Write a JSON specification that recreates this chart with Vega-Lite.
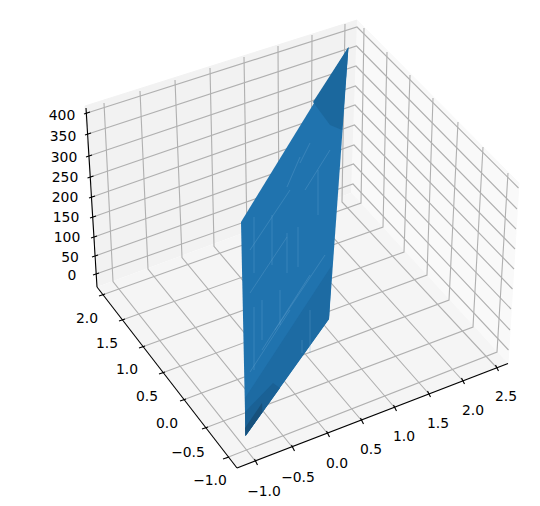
{"$schema":"https://vega.github.io/schema/vega-lite/v6.json","width":540,"height":506,"padding":0,"autosize":{"type":"fit","contains":"padding"},"background":"white","view":{"stroke":null},"config":{"axis":{"domain":false}},
"datasets":{
"polys":[
{"id":"a_left","c":"#f2f2f2","i":0,"u":97,"v":287},{"id":"a_left","c":"#f2f2f2","i":1,"u":85,"v":106},{"id":"a_left","c":"#f2f2f2","i":2,"u":357,"v":20},{"id":"a_left","c":"#f2f2f2","i":3,"u":351,"v":193},
{"id":"b_right","c":"#f9f9f9","i":0,"u":357,"v":20},{"id":"b_right","c":"#f9f9f9","i":1,"u":519,"v":183},{"id":"b_right","c":"#f9f9f9","i":2,"u":508,"v":364},{"id":"b_right","c":"#f9f9f9","i":3,"u":351,"v":193},
{"id":"c_floor","c":"#f5f5f5","i":0,"u":97,"v":287},{"id":"c_floor","c":"#f5f5f5","i":1,"u":237,"v":468},{"id":"c_floor","c":"#f5f5f5","i":2,"u":508,"v":364},{"id":"c_floor","c":"#f5f5f5","i":3,"u":351,"v":193}
],
"grid":[
{"id":"x-1.0","i":0,"u":104,"v":103},{"id":"x-1.0","i":1,"u":113,"v":281.5},{"id":"x-1.0","i":2,"u":256,"v":462},
{"id":"x-0.5","i":0,"u":140,"v":91},{"id":"x-0.5","i":1,"u":148,"v":269},{"id":"x-0.5","i":2,"u":293,"v":448},
{"id":"x0.0","i":0,"u":175,"v":80},{"id":"x0.0","i":1,"u":182,"v":257.5},{"id":"x0.0","i":2,"u":328,"v":434},
{"id":"x0.5","i":0,"u":210,"v":68},{"id":"x0.5","i":1,"u":214,"v":246.4},{"id":"x0.5","i":2,"u":362,"v":421},
{"id":"x1.0","i":0,"u":244,"v":57},{"id":"x1.0","i":1,"u":247,"v":235},{"id":"x1.0","i":2,"u":395,"v":408},
{"id":"x1.5","i":0,"u":278,"v":46},{"id":"x1.5","i":1,"u":279,"v":224},{"id":"x1.5","i":2,"u":429,"v":394},
{"id":"x2.0","i":0,"u":312,"v":35},{"id":"x2.0","i":1,"u":311,"v":213},{"id":"x2.0","i":2,"u":463,"v":381},
{"id":"x2.5","i":0,"u":345,"v":24},{"id":"x2.5","i":1,"u":342,"v":202},{"id":"x2.5","i":2,"u":497,"v":368},
{"id":"y2.0","i":0,"u":364,"v":28},{"id":"y2.0","i":1,"u":361,"v":203},{"id":"y2.0","i":2,"u":102,"v":295},
{"id":"y1.5","i":0,"u":387,"v":52},{"id":"y1.5","i":1,"u":383,"v":227},{"id":"y1.5","i":2,"u":122,"v":320},
{"id":"y1.0","i":0,"u":410,"v":75},{"id":"y1.0","i":1,"u":404,"v":252},{"id":"y1.0","i":2,"u":142,"v":347},
{"id":"y0.5","i":0,"u":433,"v":98},{"id":"y0.5","i":1,"u":427,"v":275},{"id":"y0.5","i":2,"u":162,"v":373},
{"id":"y0.0","i":0,"u":458,"v":122},{"id":"y0.0","i":1,"u":449,"v":300},{"id":"y0.0","i":2,"u":183,"v":400},
{"id":"y-0.5","i":0,"u":483,"v":147},{"id":"y-0.5","i":1,"u":473,"v":327},{"id":"y-0.5","i":2,"u":205,"v":428},
{"id":"y-1.0","i":0,"u":508,"v":173},{"id":"y-1.0","i":1,"u":497,"v":352},{"id":"y-1.0","i":2,"u":226,"v":458},
{"id":"z0","i":0,"u":96,"v":274},{"id":"z0","i":1,"u":353,"v":184},{"id":"z0","i":2,"u":508.5,"v":350},
{"id":"z50","i":0,"u":95,"v":256},{"id":"z50","i":1,"u":353.5,"v":164},{"id":"z50","i":2,"u":510,"v":330},
{"id":"z100","i":0,"u":94,"v":237},{"id":"z100","i":1,"u":354,"v":145},{"id":"z100","i":2,"u":511,"v":309},
{"id":"z150","i":0,"u":93,"v":217},{"id":"z150","i":1,"u":354.5,"v":125},{"id":"z150","i":2,"u":512.5,"v":289},
{"id":"z200","i":0,"u":92,"v":197},{"id":"z200","i":1,"u":355,"v":105},{"id":"z200","i":2,"u":514,"v":269},
{"id":"z250","i":0,"u":90.5,"v":177},{"id":"z250","i":1,"u":355.5,"v":86},{"id":"z250","i":2,"u":515,"v":249},
{"id":"z300","i":0,"u":89,"v":156},{"id":"z300","i":1,"u":356,"v":66},{"id":"z300","i":2,"u":516,"v":229},
{"id":"z350","i":0,"u":88,"v":134},{"id":"z350","i":1,"u":356.5,"v":46},{"id":"z350","i":2,"u":517,"v":209},
{"id":"z400","i":0,"u":87,"v":113},{"id":"z400","i":1,"u":357,"v":27},{"id":"z400","i":2,"u":518.5,"v":188}
],
"axes":[
{"id":"xaxis","i":0,"u":237,"v":468},{"id":"xaxis","i":1,"u":508,"v":363.5},
{"id":"yaxis","i":0,"u":97,"v":287},{"id":"yaxis","i":1,"u":237,"v":468},
{"id":"zaxis","i":0,"u":97,"v":287},{"id":"zaxis","i":1,"u":86,"v":108},
{"id":"tx1","i":0,"u":254.5,"v":459},{"id":"tx1","i":1,"u":257.5,"v":465},
{"id":"tx2","i":0,"u":291.5,"v":445},{"id":"tx2","i":1,"u":294.5,"v":451},
{"id":"tx3","i":0,"u":326.5,"v":431},{"id":"tx3","i":1,"u":329.5,"v":437},
{"id":"tx4","i":0,"u":360.5,"v":418},{"id":"tx4","i":1,"u":363.5,"v":424},
{"id":"tx5","i":0,"u":393.5,"v":405},{"id":"tx5","i":1,"u":396.5,"v":411},
{"id":"tx6","i":0,"u":427.5,"v":391},{"id":"tx6","i":1,"u":430.5,"v":397},
{"id":"tx7","i":0,"u":461.5,"v":378},{"id":"tx7","i":1,"u":464.5,"v":384},
{"id":"tx8","i":0,"u":495.5,"v":365},{"id":"tx8","i":1,"u":498.5,"v":371},
{"id":"ty1","i":0,"u":99,"v":296},{"id":"ty1","i":1,"u":105,"v":294},
{"id":"ty2","i":0,"u":119,"v":321},{"id":"ty2","i":1,"u":125,"v":319},
{"id":"ty3","i":0,"u":139,"v":348},{"id":"ty3","i":1,"u":145,"v":346},
{"id":"ty4","i":0,"u":159,"v":374},{"id":"ty4","i":1,"u":165,"v":372},
{"id":"ty5","i":0,"u":180,"v":401},{"id":"ty5","i":1,"u":186,"v":399},
{"id":"ty6","i":0,"u":202,"v":429},{"id":"ty6","i":1,"u":208,"v":427},
{"id":"ty7","i":0,"u":223,"v":459},{"id":"ty7","i":1,"u":229,"v":457},
{"id":"tz1","i":0,"u":93,"v":275},{"id":"tz1","i":1,"u":99,"v":273},
{"id":"tz2","i":0,"u":92,"v":257},{"id":"tz2","i":1,"u":98,"v":255},
{"id":"tz3","i":0,"u":91,"v":238},{"id":"tz3","i":1,"u":97,"v":236},
{"id":"tz4","i":0,"u":90,"v":218},{"id":"tz4","i":1,"u":96,"v":216},
{"id":"tz5","i":0,"u":89,"v":198},{"id":"tz5","i":1,"u":95,"v":196},
{"id":"tz6","i":0,"u":87.5,"v":178},{"id":"tz6","i":1,"u":93.5,"v":176},
{"id":"tz7","i":0,"u":86,"v":157},{"id":"tz7","i":1,"u":92,"v":155},
{"id":"tz8","i":0,"u":85,"v":135},{"id":"tz8","i":1,"u":91,"v":133},
{"id":"tz9","i":0,"u":84,"v":114},{"id":"tz9","i":1,"u":90,"v":112}
],
"labels":[
{"t":"−1.0","u":264,"v":491},{"t":"−0.5","u":298,"v":477},{"t":"0.0","u":337,"v":463},{"t":"0.5","u":371,"v":449},{"t":"1.0","u":404,"v":436},{"t":"1.5","u":438,"v":423},{"t":"2.0","u":473,"v":410},{"t":"2.5","u":506,"v":396},
{"t":"2.0","u":87,"v":318},{"t":"1.5","u":107,"v":343},{"t":"1.0","u":127,"v":369},{"t":"0.5","u":147,"v":396},{"t":"0.0","u":167,"v":423},{"t":"−0.5","u":188,"v":452},{"t":"−1.0","u":210,"v":480},
{"t":"0","u":72,"v":275},{"t":"50","u":70,"v":257},{"t":"100","u":67,"v":237},{"t":"150","u":66,"v":217},{"t":"200","u":65,"v":197},{"t":"250","u":65,"v":177},{"t":"300","u":64,"v":157},{"t":"350","u":63,"v":136},{"t":"400","u":62,"v":115}
],
"surface":[
{"id":"s0","c":"#2073ae","i":0,"u":241,"v":222},{"id":"s0","c":"#2073ae","i":1,"u":348.5,"v":47},{"id":"s0","c":"#2073ae","i":2,"u":329,"v":319},{"id":"s0","c":"#2073ae","i":3,"u":245.5,"v":436},
{"id":"s1","c":"#1b689e","i":0,"u":313,"v":102},{"id":"s1","c":"#1b689e","i":1,"u":348.5,"v":47},{"id":"s1","c":"#1b689e","i":2,"u":342,"v":130},{"id":"s1","c":"#1b689e","i":3,"u":330,"v":125},
{"id":"s2","c":"#1d6ba3","i":0,"u":245,"v":398},{"id":"s2","c":"#1d6ba3","i":1,"u":332,"v":265},{"id":"s2","c":"#1d6ba3","i":2,"u":329,"v":319},{"id":"s2","c":"#1d6ba3","i":3,"u":245.5,"v":436},
{"id":"s3","c":"#1a6195","i":0,"u":245,"v":412},{"id":"s3","c":"#1a6195","i":1,"u":273,"v":383},{"id":"s3","c":"#1a6195","i":2,"u":280,"v":388},{"id":"s3","c":"#1a6195","i":3,"u":245.5,"v":436},
{"id":"s4","c":"#17517c","i":0,"u":245,"v":428},{"id":"s4","c":"#17517c","i":1,"u":262,"v":403},{"id":"s4","c":"#17517c","i":2,"u":262.5,"v":412},{"id":"s4","c":"#17517c","i":3,"u":245.5,"v":436}
],
"seams":[
{"id":"a","i":0,"u":254,"v":217},{"id":"a","i":1,"u":254,"v":273},
{"id":"b","i":0,"u":254,"v":307},{"id":"b","i":1,"u":254,"v":370},
{"id":"c","i":0,"u":287,"v":233},{"id":"c","i":1,"u":287,"v":273},
{"id":"d","i":0,"u":298,"v":227},{"id":"d","i":1,"u":298,"v":267},
{"id":"e","i":0,"u":310,"v":310},{"id":"e","i":1,"u":310,"v":353},
{"id":"f","i":0,"u":302,"v":340},{"id":"f","i":1,"u":302,"v":353},
{"id":"g","i":0,"u":250,"v":293},{"id":"g","i":1,"u":287,"v":237},
{"id":"h","i":0,"u":262,"v":350},{"id":"h","i":1,"u":310,"v":275},
{"id":"j","i":0,"u":287,"v":187},{"id":"j","i":1,"u":300,"v":157},
{"id":"k","i":0,"u":300,"v":163},{"id":"k","i":1,"u":310,"v":143},
{"id":"l","i":0,"u":275,"v":330},{"id":"l","i":1,"u":325,"v":255},
{"id":"m","i":0,"u":272,"v":215},{"id":"m","i":1,"u":272,"v":265},
{"id":"n","i":0,"u":318,"v":170},{"id":"n","i":1,"u":318,"v":215},
{"id":"o","i":0,"u":250,"v":250},{"id":"o","i":1,"u":290,"v":190},
{"id":"p","i":0,"u":305,"v":190},{"id":"p","i":1,"u":330,"v":150},
{"id":"q","i":0,"u":262,"v":300},{"id":"q","i":1,"u":262,"v":340},
{"id":"r","i":0,"u":280,"v":290},{"id":"r","i":1,"u":280,"v":325},
{"id":"s","i":0,"u":250,"v":372},{"id":"s","i":1,"u":290,"v":310}
]
},
"encoding":{
"x":{"field":"u","type":"quantitative","scale":{"domain":[0,540],"nice":false,"zero":false},"axis":null},
"y":{"field":"v","type":"quantitative","scale":{"domain":[506,0],"nice":false,"zero":false},"axis":null}
},
"layer":[
{"data":{"name":"polys"},"mark":{"type":"line","filled":true,"strokeWidth":1,"clip":false},"encoding":{"order":{"field":"i"},"detail":{"field":"id"},"fill":{"field":"c","type":"nominal","scale":null,"legend":null},"stroke":{"field":"c","type":"nominal","scale":null,"legend":null}}},
{"data":{"name":"grid"},"mark":{"type":"line","stroke":"#b0b0b0","strokeWidth":1.11},"encoding":{"order":{"field":"i"},"detail":{"field":"id"}}},
{"data":{"name":"axes"},"mark":{"type":"line","stroke":"#000000","strokeWidth":1.11},"encoding":{"order":{"field":"i"},"detail":{"field":"id"}}},
{"data":{"name":"labels"},"mark":{"type":"text","font":"DejaVu Sans","fontSize":13.9,"color":"#000000","align":"center","baseline":"middle","dy":1},"encoding":{"text":{"field":"t"}}},
{"data":{"name":"surface"},"mark":{"type":"line","filled":true,"strokeWidth":0},"encoding":{"order":{"field":"i"},"detail":{"field":"id"},"fill":{"field":"c","type":"nominal","scale":null,"legend":null},"stroke":{"field":"c","type":"nominal","scale":null,"legend":null}}},
{"data":{"name":"seams"},"mark":{"type":"line","stroke":"#6ba6d0","strokeWidth":0.6,"opacity":0.55},"encoding":{"order":{"field":"i"},"detail":{"field":"id"}}}
]}
